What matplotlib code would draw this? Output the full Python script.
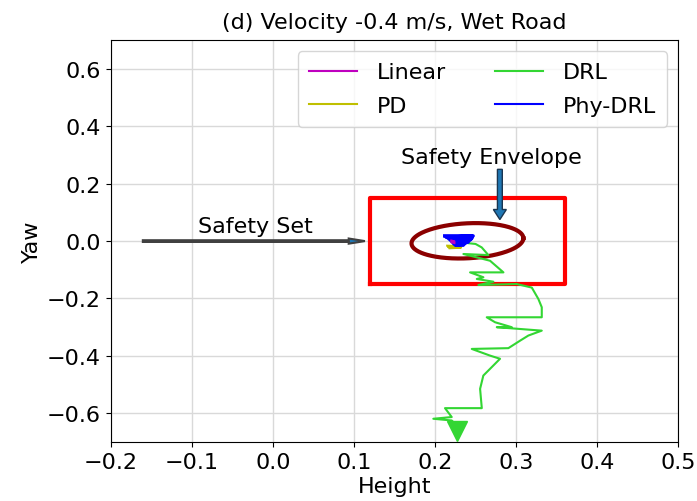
import numpy as np
import matplotlib
matplotlib.use("Agg")
import matplotlib.pyplot as plt

# ---- data ----
drl_x = [0.240, 0.2500, 0.2576, 0.2658, 0.2350, 0.2679, 0.2844, 0.2432, 0.2597, 0.2515, 0.272,
         0.2535, 0.3008, 0.3194, 0.3275, 0.3317, 0.3317, 0.2638, 0.2741, 0.2947, 0.2762,
         0.3317, 0.3152, 0.3049, 0.2905, 0.2453, 0.2679, 0.2802, 0.2679, 0.2596, 0.2556,
         0.2577, 0.2123, 0.2206, 0.1979, 0.2206, 0.2288, 0.227]
drl_y = [-0.007, -0.010, -0.022, -0.0487, -0.045, -0.0685, -0.109, -0.109, -0.126, -0.132, -0.1415,
         -0.153, -0.1496, -0.162, -0.2017, -0.2306, -0.2654, -0.2654, -0.2828, -0.300, -0.300,
         -0.312, -0.329, -0.347, -0.373, -0.3757, -0.399, -0.410, -0.445, -0.4685, -0.5148,
         -0.582, -0.582, -0.613, -0.619, -0.625, -0.648, -0.662]

phy_x = [0.212, 0.247, 0.214, 0.246, 0.217, 0.245, 0.219, 0.243, 0.221, 0.241, 0.223, 0.237, 0.225, 0.234]
phy_y = [0.018, 0.018, 0.013, 0.013, 0.008, 0.008, 0.003, 0.003, -0.003, -0.003, -0.009, -0.009, -0.014, -0.014]

lin_x = [0.220, 0.224, 0.220, 0.224]
lin_y = [0.002, -0.001, -0.004, -0.007]

pd_x = [0.215, 0.233, 0.216, 0.232, 0.218]
pd_y = [-0.016, -0.018, -0.021, -0.023, -0.025]

xticks = [-0.2, -0.1, 0.0, 0.1, 0.2, 0.3, 0.4, 0.5]
yticks = [-0.6, -0.4, -0.2, 0.0, 0.2, 0.4, 0.6]

safety_set = (0.12, 0.36, -0.15, 0.15)  # xmin, xmax, ymin, ymax
env_center = (0.240, 0.001)
env_a, env_b, env_s = 0.069, 0.061, 0.009

plt.rcParams['font.size'] = 16
fig = plt.figure(figsize=(6.97, 5.02), dpi=100)
ax = fig.add_axes([0.159, 0.1175, 0.814, 0.8005])

ax.plot(lin_x, lin_y, color='m', lw=1.5, label='Linear', zorder=6)
ax.plot(pd_x, pd_y, color='y', lw=1.5, label='PD', zorder=4)
ax.plot(drl_x, drl_y, color='#33d633', lw=1.5, label='DRL', zorder=3)
ax.plot(phy_x, phy_y, color='b', lw=1.5, label='Phy-DRL', zorder=5)
ax.plot(phy_x, phy_y, color='b', lw=2.5, zorder=5)
ax.plot([drl_x[-1]], [drl_y[-1]], marker='v', color='#33d633', markersize=14, zorder=3)

# safety set rectangle
x0, x1, y0, y1 = safety_set
ax.plot([x0, x1, x1, x0, x0], [y0, y0, y1, y1, y0], color='red', lw=3, zorder=2)

# safety envelope ellipse
t = np.linspace(0, 2 * np.pi, 300)
ex = env_center[0] + env_a * np.cos(t)
ey = env_center[1] + env_b * np.sin(t) + env_s * np.cos(t)
ax.plot(ex, ey, color='#8b0000', lw=3, zorder=2)

# arrows & annotations
ax.arrow(0.28, 0.25, 0, -0.175, width=0.006, head_width=0.016, head_length=0.035,
         length_includes_head=True, fc='#1f77b4', ec='#1a3550', lw=1, zorder=7)
ax.arrow(-0.1605, 0.0, 0.274, 0, width=0.006, head_width=0.018, head_length=0.02,
         length_includes_head=True, fc='#1f77b4', ec='#404040', lw=1.5, zorder=7)
ax.text(0.2698, 0.292, 'Safety Envelope', ha='center', va='center', fontsize=16)
ax.text(-0.022, 0.052, 'Safety Set', ha='center', va='center', fontsize=16)

ax.set_xlim(-0.2, 0.5)
ax.set_ylim(-0.7, 0.7)
ax.set_xticks(xticks)
ax.set_yticks(yticks)
ax.tick_params(labelsize=16)
ax.grid(True, color='#d9d9d9', lw=1)
ax.set_axisbelow(True)
ax.set_xlabel('Height', fontsize=16, labelpad=3)
ax.set_ylabel('Yaw', fontsize=16)
ax.set_title('(d) Velocity -0.4 m/s, Wet Road', fontsize=16, pad=9)
ax.legend(loc='upper right', ncol=2, fontsize=16, handlelength=2.15, handletextpad=0.9,
          columnspacing=2.2, labelspacing=0.6, borderpad=0.5)

fig.savefig('out.png', dpi=100)
